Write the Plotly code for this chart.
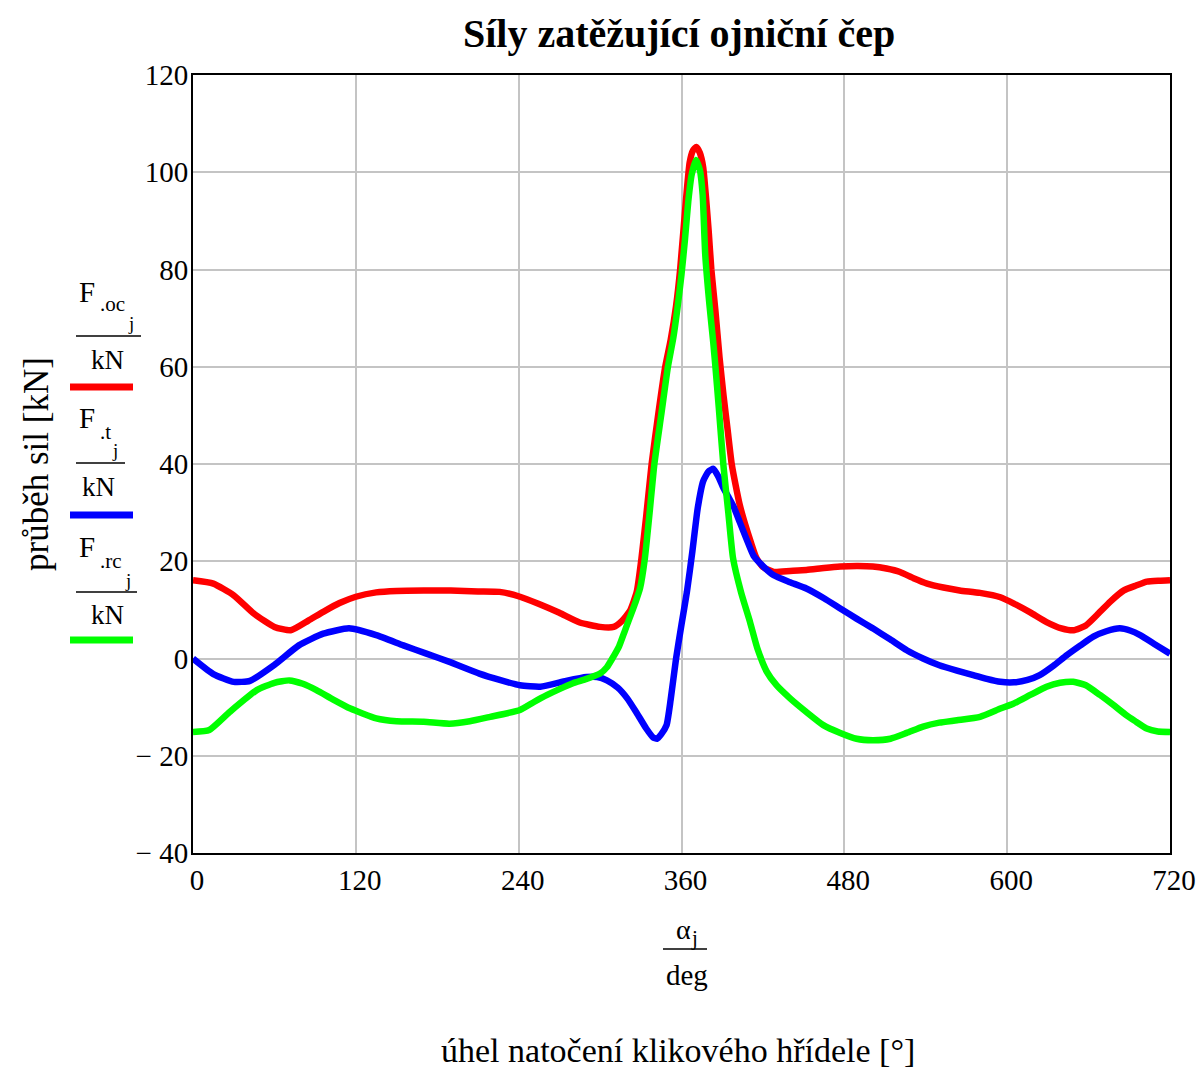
import plotly.graph_objects as go

# ---------------- data ----------------
angle_oc = [0, 15, 30, 45, 60, 72, 85, 96, 108, 120, 135, 150, 170, 190, 210, 226, 241, 255,
            270, 285, 300, 310, 316, 322, 327, 330.5, 334, 338, 343, 348, 352, 356, 359,
            363.5, 366, 368.5, 371, 373.5, 376, 378, 380, 382, 385, 388, 391, 394, 397, 400,
            403, 407, 411, 415, 420, 428, 440, 452, 465, 477, 490, 501, 511, 521, 531, 541,
            553, 565, 580, 595, 605, 617, 629, 640, 649, 658, 666, 676, 686, 695, 703, 712, 720]
F_oc = [16.1, 15.4, 13.0, 9.2, 6.5, 5.8, 7.8, 9.6, 11.4, 12.7, 13.6, 13.9, 14.0, 14.0, 13.8,
        13.7, 12.7, 11.2, 9.4, 7.4, 6.5, 6.5, 7.7, 9.8, 13.7, 20.6, 29.3, 40.0, 50.5, 60.0,
        65.5, 72.5, 80.0, 95.0, 102.0, 104.5, 105.2, 104.0, 101.0, 95.0, 88.0, 80.0,
        71.5, 62.0, 54.0, 47.0, 40.0, 35.5, 31.5, 27.5, 24.0, 20.8, 18.8, 17.8, 18.0, 18.2,
        18.6, 18.9, 19.0, 18.9, 18.5, 17.8, 16.5, 15.4, 14.6, 14.0, 13.5, 12.6, 11.3, 9.5,
        7.5, 6.2, 5.8, 6.8, 8.9, 11.7, 14.0, 15.0, 15.8, 16.0, 16.1]

angle_t = [0, 15, 30, 42, 60, 78, 96, 115, 135, 155, 172, 189, 211, 226, 241, 256, 275, 290,
           298, 305, 313, 320, 327, 334, 339, 342, 345, 349, 352, 356, 360, 364, 368, 372, 376,
           380, 383.5, 387, 391, 395, 398, 403, 408, 413, 420, 428, 440, 452, 465, 477, 489,
           501, 514, 526, 538, 550, 563, 575, 585, 595, 605, 615, 624, 634, 644, 654, 663.5,
           673, 683, 691, 698, 709, 720]
F_t = [0.0, -3.2, -4.8, -4.6, -1.3, 2.7, 5.1, 6.2, 4.8, 2.7, 1.0, -0.7, -3.1, -4.4, -5.5, -5.8,
       -4.6, -3.8, -3.8, -4.5, -6.0, -8.2, -11.2, -14.4, -16.2, -16.5, -15.6, -13.7, -8.5, 0.0,
       7.0, 13.7, 22.0, 31.0, 36.5, 38.5, 39.0, 37.5, 35.0, 33.0, 31.5, 28.0, 24.5, 21.2, 19.0,
       17.1, 15.7, 14.4, 12.4, 10.3, 8.2, 6.2, 3.9, 1.7, 0.0, -1.4, -2.5, -3.4, -4.2, -4.8,
       -4.9, -4.4, -3.4, -1.5, 0.7, 2.7, 4.5, 5.6, 6.2, 5.7, 4.8, 2.9, 1.0]

angle_rc = [0, 12, 27, 47, 60, 71, 81, 91, 103, 116, 135, 150, 170, 189, 204, 219, 241, 251,
            261, 270, 280, 290, 300, 305, 309, 314, 318, 322, 326, 329.5, 333, 336.5, 340, 345,
            350, 354, 357, 360, 362.5, 365, 367.5, 370.7, 373.5, 375.6, 377.5,
            380.5, 383.4, 385, 387.5, 390.8, 394.5, 398, 404, 410.5, 416, 422.8, 430, 440, 452,
            464.5, 477, 489, 501, 514, 526, 538, 550, 563, 580, 595, 604.5, 617, 629, 639,
            648.7, 658, 668.4, 678, 688, 695, 702.8, 711, 720]
F_rc = [-15.1, -14.7, -11.0, -6.5, -5.0, -4.5, -5.2, -6.5, -8.4, -10.3, -12.3, -12.9, -13.0,
        -13.4, -12.9, -12.0, -10.6, -9.0, -7.5, -6.3, -5.1, -4.2, -3.1, -1.8, 0.0, 2.5, 5.5,
        8.5, 11.5, 14.5, 20.6, 30.0, 40.0, 50.0, 60.0, 66.0, 72.0, 79.0, 86.0,
        94.0, 99.5, 102.5, 100.5, 95.3, 83.0, 73.0, 65.0, 60.0, 51.5, 40.0, 30.0, 20.6, 13.5,
        7.5, 2.0, -2.7, -5.5, -8.2, -11.0, -13.7, -15.3, -16.5, -16.8, -16.5, -15.3, -14.0,
        -13.2, -12.7, -12.0, -10.3, -9.3, -7.5, -5.8, -5.0, -4.8, -5.5, -7.5, -9.5, -11.7,
        -13.0, -14.4, -15.0, -15.1]

x_ticks = [0, 120, 240, 360, 480, 600, 720]
y_ticks = [-40, -20, 0, 20, 40, 60, 80, 100, 120]
y_ticktext = ["\u2212 40", "\u2212 20", "0", "20", "40", "60", "80", "100", "120"]

title_text = "Síly zatěžující ojniční čep"
ytitle_text = "průběh sil [kN]"
xtitle_text = "úhel natočení klikového hřídele [°]"

# ---------------- figure ----------------
W, H = 1198, 1070
L, R, T, B = 193, 28, 75, 217
PW, PH = W - L - R, H - T - B
SERIF = "Liberation Serif, Times New Roman, serif"


def px(x):
    return (x - L) / PW


def py(y):
    return (H - B - y) / PH


fig = go.Figure()
series = [(angle_oc, F_oc, "#ff0000"), (angle_t, F_t, "#0000ff"), (angle_rc, F_rc, "#00ff00")]
for xs, ys, col in series:
    fig.add_trace(go.Scatter(x=xs, y=ys, mode="lines",
                             line=dict(color=col, width=6.5, shape="spline", smoothing=0.5),
                             showlegend=False, hoverinfo="skip"))

fig.update_layout(
    width=W, height=H,
    margin=dict(l=L, r=R, t=T, b=B, autoexpand=False),
    paper_bgcolor="white", plot_bgcolor="white",
    font=dict(family=SERIF, color="black", size=28),
    showlegend=False,
)
fig.update_xaxes(range=[0, 720], tickvals=x_ticks, showgrid=True, gridcolor="#c4c4c4",
                 gridwidth=2, showline=True, linecolor="black", linewidth=2, mirror=True,
                 zeroline=False, ticks="", tickfont=dict(size=29, family=SERIF),
                 ticklabelshift=4, automargin=False)
fig.update_yaxes(range=[-40, 120], tickvals=y_ticks, ticktext=y_ticktext, showgrid=True,
                 gridcolor="#c4c4c4", gridwidth=2, showline=True, linecolor="black",
                 linewidth=2, mirror=True, zeroline=False, ticks="",
                 tickfont=dict(size=29, family=SERIF), ticklabelstandoff=-3,
                 automargin=False)

ann = []
shapes = []


def text(x, y, s, size, **kw):
    ann.append(dict(x=px(x), y=py(y), xref="paper", yref="paper", text=s, showarrow=False,
                    font=dict(size=size, family=SERIF, color="black"),
                    xanchor=kw.get("xanchor", "center"), yanchor="middle",
                    textangle=kw.get("angle", 0)))


def hline(x0, x1, y, color="black", width=1.5):
    shapes.append(dict(type="line", xref="paper", yref="paper", x0=px(x0), x1=px(x1),
                       y0=py(y), y1=py(y), line=dict(color=color, width=width)))


# title
text(679, 33, "<b>" + title_text + "</b>", 40)
# y-axis title
text(36, 464, ytitle_text, 35, angle=-90)
# x-axis titles
text(683, 929, "α", 28)
text(694, 938, "j", 21)
hline(663, 707, 949)
text(687, 975, "deg", 29)
text(678, 1050, xtitle_text, 34)

# legend-like labels on the left
legend = [
    # F y, sub, sub-pos, j-pos, line y, line x1, kN pos, bar y, colour
    (292, ".oc", (112, 304), (131, 323), 336, 141, (107, 360), 387, "#ff0000"),
    (418, ".t", (105, 432), (115, 450), 463, 125, (98, 487), 515, "#0000ff"),
    (547, ".rc", (111, 561), (128, 580), 592, 137, (107, 615), 640, "#00ff00"),
]
for fy, sub, sp, jp, ly, lx1, kp, by, col in legend:
    text(87, fy, "F", 29)
    text(sp[0], sp[1], sub, 21)
    text(jp[0], jp[1], "j", 19)
    hline(76, lx1, ly)
    text(kp[0], kp[1], "kN", 27)
    hline(70, 133, by, color=col, width=7)

fig.update_layout(annotations=ann, shapes=shapes)
fig.write_html("out.html")
